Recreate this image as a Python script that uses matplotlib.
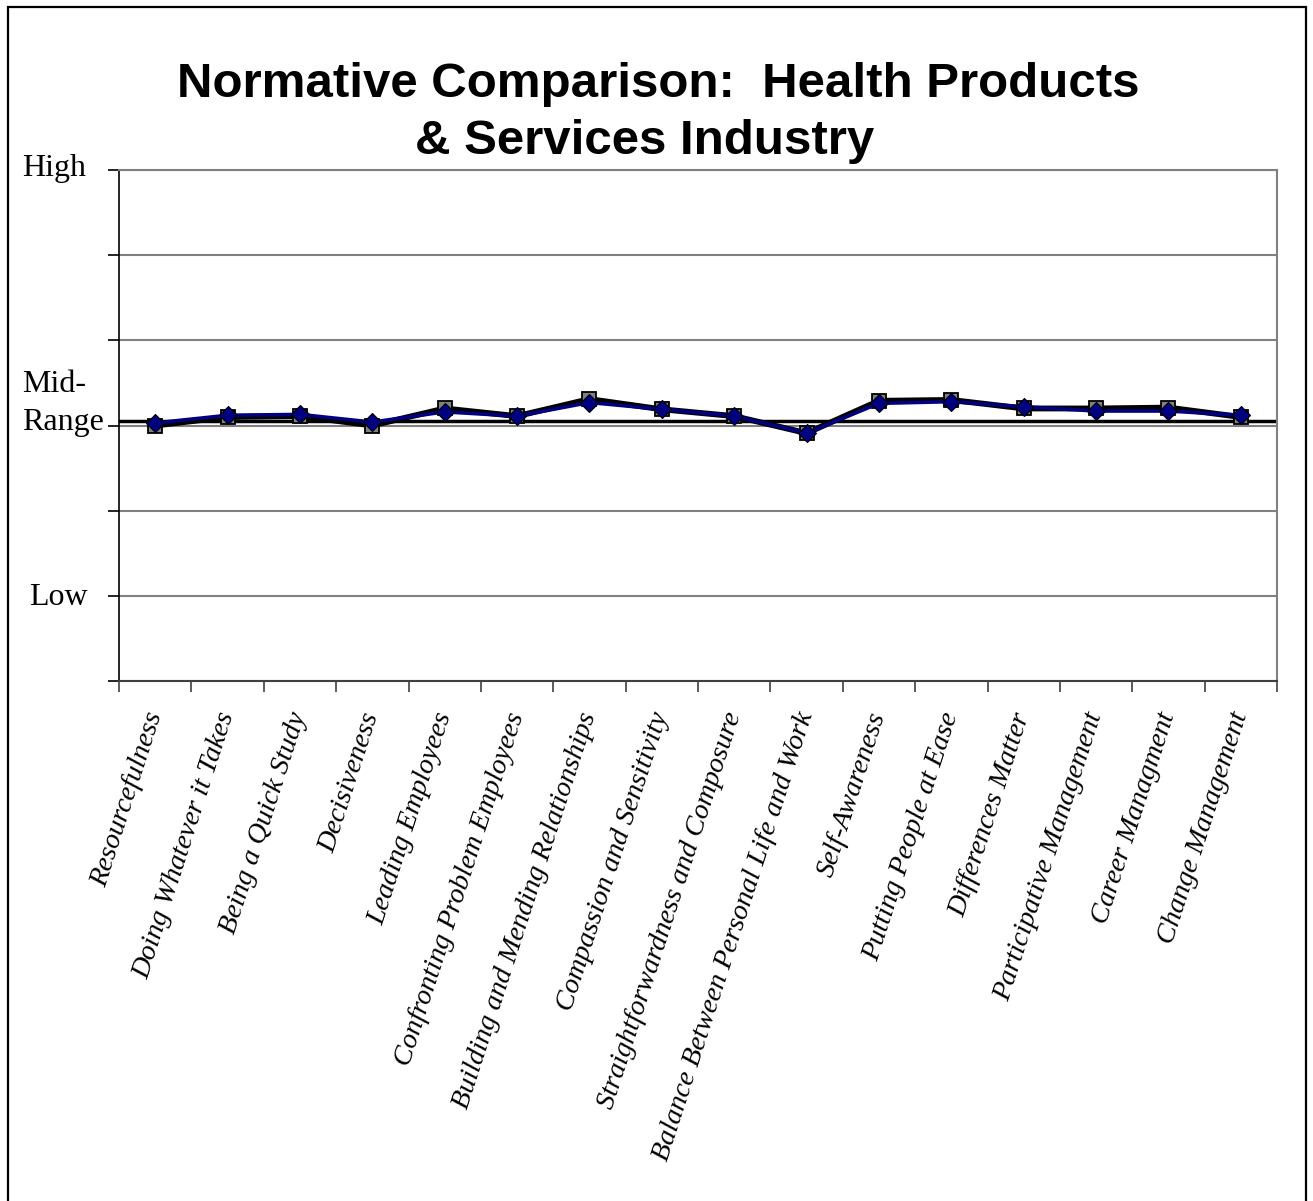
import matplotlib
matplotlib.use("Agg")
import matplotlib.pyplot as plt
from matplotlib.patches import Rectangle
from matplotlib.ticker import FixedLocator

categories = ["Resourcefulness", "Doing Whatever it Takes", "Being a Quick Study",
              "Decisiveness", "Leading Employees", "Confronting Problem Employees",
              "Building and Mending Relationships", "Compassion and Sensitivity",
              "Straightforwardness and Composure", "Balance Between Personal Life and Work",
              "Self-Awareness", "Putting People at Ease", "Differences Matter",
              "Participative Management", "Career Managment", "Change Management"]
norm_values = [3.00, 3.10, 3.11, 3.00, 3.20, 3.11, 3.31, 3.19, 3.11, 2.91,
               3.29, 3.30, 3.20, 3.20, 3.21, 3.10]
group_values = [3.03, 3.12, 3.13, 3.04, 3.16, 3.11, 3.27, 3.19, 3.11, 2.91,
                3.26, 3.28, 3.22, 3.17, 3.17, 3.12]
mid_range = 3.05
title_lines = ["Normative Comparison:  Health Products", "& Services Industry"]

W, H = 1313, 1201
fig = plt.figure(figsize=(W / 100, H / 100), dpi=100)
fig.patch.set_facecolor("white")

L, R, T, B = 119, 1277, 170, 681
ax = fig.add_axes([L / W, 1 - B / H, (R - L) / W, (B - T) / H])

x = list(range(len(categories)))
ax.set_xlim(-0.5, len(categories) - 0.5)
ax.set_ylim(0, 6)

# grid
ax.set_yticks(range(0, 7))
ax.yaxis.grid(True, color="#808080", linewidth=1.5)
ax.set_axisbelow(True)
ax.set_yticklabels([])
ax.tick_params(axis="y", direction="out", length=8, width=1.2, color="black")

# mid-range line
ax.axhline(mid_range, color="black", linewidth=2.5, zorder=2)

# series
ax.plot(x, norm_values, color="black", linewidth=4.2, marker="s", markersize=10,
        markerfacecolor="#808080", markeredgecolor="black", markeredgewidth=1.3,
        zorder=3, clip_on=False)
ax.plot(x, group_values, color="#000080", linewidth=2.6, marker="D", markersize=9,
        markerfacecolor="#000080", markeredgecolor="black", markeredgewidth=0.8,
        zorder=4, clip_on=False)

# x ticks
ax.set_xticks(x)
ax.set_xticklabels(categories, rotation=72, ha="right", va="center",
                   rotation_mode="anchor", fontsize=20.3, fontstyle="italic",
                   family="Liberation Serif")
ax.tick_params(axis="x", which="major", length=0, pad=23)
ax.xaxis.set_minor_locator(FixedLocator([i - 0.5 for i in range(len(categories) + 1)]))
ax.tick_params(axis="x", which="minor", direction="out", length=8, width=1.2,
               color="#404040")

for s in ["top", "right"]:
    ax.spines[s].set_color("#808080")
    ax.spines[s].set_linewidth(1.5)
ax.spines["left"].set_color("black")
ax.spines["left"].set_linewidth(1.2)
ax.spines["bottom"].set_color("#404040")
ax.spines["bottom"].set_linewidth(1.5)

# y labels
def ftext(px, py, s, **kw):
    fig.text(px / W, 1 - py / H, s, **kw)

ylab = dict(fontsize=23, family="Liberation Serif", ha="left", va="baseline")
ftext(22, 176, "High", **ylab)
ftext(22, 392, "Mid-", **ylab)
ftext(22, 430, "Range", **ylab)
ftext(29, 605, "Low", **ylab)

# title
tkw = dict(fontsize=35.5, family="Liberation Sans", fontweight="bold",
           ha="center", va="baseline")
ftext(658, 97, title_lines[0], **tkw)
ftext(645, 154, title_lines[1], **tkw)

# outer border (open at the bottom edge of the image)
fig.patches.append(Rectangle((8 / W, -0.05), (1306 - 8) / W, 1 - 7 / H + 0.05,
                             transform=fig.transFigure, fill=False,
                             edgecolor="black", linewidth=1.6))

fig.savefig("out.png", dpi=100, facecolor="white")
